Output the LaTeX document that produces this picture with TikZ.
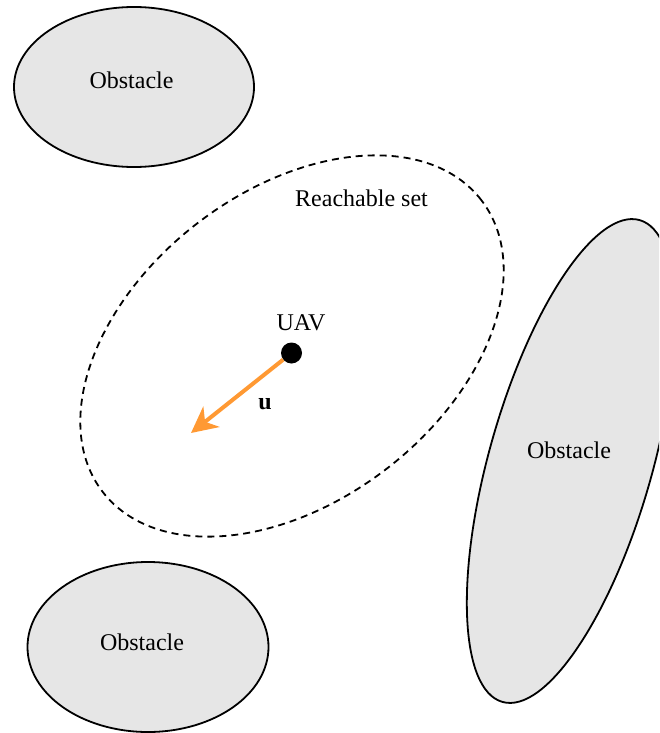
\documentclass[tikz,border=0pt]{standalone}
\usepackage{fontspec}
\setmainfont{Liberation Serif}
\usetikzlibrary{shapes.geometric,arrows.meta}
\definecolor{obsfill}{HTML}{E6E6E6}
\definecolor{arrorange}{HTML}{FF9933}
\begin{document}
\begin{tikzpicture}[x=1pt,y=1pt,
  obstacle/.style={ellipse,draw=black,line width=1.8pt,fill=obsfill,inner sep=0pt},
  reach/.style={ellipse,draw=black,line width=1.8pt,dash pattern=on 7pt off 5pt,inner sep=0pt},
  lbl/.style={font=\fontsize{24}{28}\selectfont,anchor=base,inner sep=0pt},
  uavdot/.style={circle,fill=black,inner sep=0pt,minimum size=21pt},
  ctrl/.style={draw=arrorange,line width=4pt,-{Stealth[length=26pt,width=26pt,inset=8pt]}}]
\useasboundingbox (0,0) rectangle (659,-733);
\clip (0,0) rectangle (659,-733);
% obstacles
\node[obstacle,minimum width=240pt,minimum height=160pt] (obs1) at (134,-87) {};
\node[obstacle,minimum width=241pt,minimum height=170pt] (obs2) at (148,-647) {};
\node[obstacle,minimum width=501pt,minimum height=163pt,rotate=74.1] (obs3) at (571,-461) {};
\node[lbl] (t1) at (131.5,-89) {Obstacle};
\node[lbl] (t2) at (142,-650.5) {Obstacle};
\node[lbl] (t3) at (569,-458) {Obstacle};
% reachable set
\node[reach,minimum width=478pt,minimum height=310pt,rotate=37.6] (rs) at (292,-346) {};
\node[lbl] (trs) at (361.5,-206.5) {Reachable set};
% UAV
\node[uavdot] (uav) at (291.5,-353) {};
\node[lbl] (tuav) at (301,-330) {UAV};
\coordinate (tip) at (191,-433);
\draw[ctrl] (uav) -- (tip);
\node[lbl] (tu) at (265,-409) {\textbf{u}};
\end{tikzpicture}
\end{document}
